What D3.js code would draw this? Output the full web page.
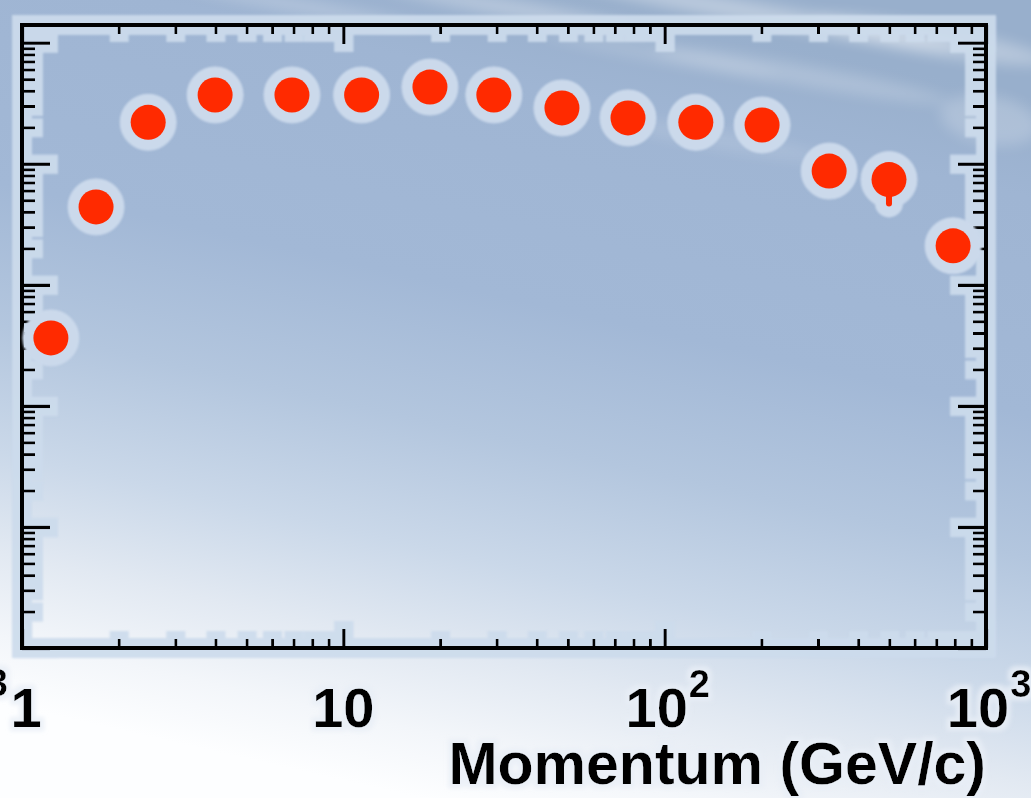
<!DOCTYPE html>
<html>
<head>
<meta charset="utf-8">
<script src="https://cdn.jsdelivr.net/npm/d3@7"></script>
<style>
  html, body { margin: 0; padding: 0; background: #fff; overflow: hidden; }
  svg { display: block; }
</style>
</head>
<body>
<svg id="chart" width="1031" height="798"></svg>
<script>
// Measured momentum bins (GeV/c) and the corresponding values (log scale)
const momentum = [1.23, 1.70, 2.47, 3.99, 6.92, 11.4, 18.6, 29.4, 47.9, 76.9, 125, 201, 325, 499, 790];
const values   = [364, 4400, 22000, 37000, 37000, 37000, 43000, 37000, 28900, 23900, 22000, 20900, 8700, 7400, 2100];
// Lower end of the error bar (only visible where it sticks out of the marker)
const errLow   = [null, null, null, null, null, null, null, null, null, null, null, null, null, 4700, null];

const xDomain = [1, 1000];
const yDomain = [1, 1.4e5];
const xTickLabels = [
  { v: 1,    base: "1",  sup: "" },
  { v: 10,   base: "10", sup: "" },
  { v: 100,  base: "10", sup: "2" },
  { v: 1000, base: "10", sup: "3" }
];
const xTitle = "Momentum (GeV/c)";

const W = 1031, H = 798;
const margin = { left: 22, right: 45, top: 25, bottom: 150 };
const x0 = margin.left, x1 = W - margin.right;
const y0 = H - margin.bottom, y1 = margin.top;

const svg = d3.select("#chart");
const defs = svg.append("defs");

// Sky-like background: blue at the top right fading to white at the bottom left
const bg = defs.append("linearGradient")
  .attr("id", "sky").attr("gradientUnits", "userSpaceOnUse")
  .attr("x1", 600).attr("y1", 0).attr("x2", 420).attr("y2", H);
[[0, "#98afcc"], [0.12, "#9fb5d3"], [0.38, "#a2b8d6"], [0.55, "#b3c6de"],
 [0.70, "#cad8e9"], [0.82, "#e2e9f2"], [0.92, "#f3f6fa"], [1, "#fdfeff"]]
  .forEach(([o, c]) => bg.append("stop").attr("offset", o).attr("stop-color", c));

const cloudBlur = defs.append("filter").attr("id", "cloud")
  .attr("x", "-50%").attr("y", "-50%").attr("width", "200%").attr("height", "200%");
cloudBlur.append("feGaussianBlur").attr("stdDeviation", 7);

const softBlur = defs.append("filter").attr("id", "soft")
  .attr("x", "-20%").attr("y", "-20%").attr("width", "140%").attr("height", "140%");
softBlur.append("feGaussianBlur").attr("stdDeviation", 1.2);

// Pale glow drawn around dark axis lines and text
function makeHalo(id, radius, blur, color, opacity) {
  const f = defs.append("filter").attr("id", id)
    .attr("filterUnits", "userSpaceOnUse")
    .attr("x", -20).attr("y", -20).attr("width", W + 40).attr("height", H + 40);
  f.append("feMorphology").attr("in", "SourceAlpha").attr("operator", "dilate")
    .attr("radius", radius).attr("result", "d");
  f.append("feGaussianBlur").attr("in", "d").attr("stdDeviation", blur).attr("result", "b");
  f.append("feFlood").attr("flood-color", color).attr("flood-opacity", opacity);
  f.append("feComposite").attr("in2", "b").attr("operator", "in").attr("result", "h");
  const m = f.append("feMerge");
  m.append("feMergeNode").attr("in", "h");
  m.append("feMergeNode").attr("in", "SourceGraphic");
}
makeHalo("axisHalo", 8, 1.2, "#ccdbec", 0.92);
makeHalo("textHalo", 4, 2, "#e8eef6", 0.8);

svg.append("rect").attr("width", W).attr("height", H).attr("fill", "url(#sky)");

// Faint cloud streaks across the top
const clouds = svg.append("g").attr("filter", "url(#cloud)").attr("fill", "#ffffff");
[[520, 10, 140, 8, 0.3], [760, 14, 200, 10, 0.35], [930, 40, 120, 14, 0.3],
 [800, 75, 150, 10, 0.2], [660, 55, 120, 7, 0.15], [990, 120, 50, 24, 0.2],
 [300, 6, 120, 6, 0.25], [720, 140, 110, 9, 0.12]]
  .forEach(([cx, cy, rx, ry, o]) =>
    clouds.append("ellipse").attr("cx", cx).attr("cy", cy).attr("rx", rx).attr("ry", ry)
      .attr("opacity", o).attr("transform", `rotate(10 ${cx} ${cy})`));

const x = d3.scaleLog().domain(xDomain).range([x0, x1]);
const y = d3.scaleLog().domain(yDomain).range([y0, y1]);

const isDecade = v => Math.abs(Math.log10(v) - Math.round(Math.log10(v))) < 1e-9;
const xTicks = x.ticks();
const yTicks = y.ticks().filter(v => v >= yDomain[0] && v <= yDomain[1]);
const xMajor = xTicks.filter(isDecade), xMinor = xTicks.filter(v => !isDecade(v));
const yMajor = yTicks.filter(isDecade), yMinor = yTicks.filter(v => !isDecade(v));

// Frame with inward-pointing ticks on all four sides
const frame = svg.append("g").attr("filter", "url(#axisHalo)");

function styleAxis(g, width) {
  g.select(".domain").remove();
  g.selectAll(".tick line").attr("stroke", "#000").attr("stroke-width", width);
  g.selectAll(".tick text").remove();
}
const axes = [
  [d3.axisBottom, `translate(0,${y0})`, x, xMinor, -9, xMajor, -19],
  [d3.axisTop,    `translate(0,${y1})`, x, xMinor, -9, xMajor, -19],
  [d3.axisLeft,   `translate(${x0},0)`, y, yMinor, -13, yMajor, -28],
  [d3.axisRight,  `translate(${x1},0)`, y, yMinor, -13, yMajor, -28]
];
axes.forEach(([fn, tr, sc, minor, minLen, major, majLen]) => {
  frame.append("g").attr("transform", tr)
    .call(fn(sc).tickValues(minor).tickSize(minLen).tickFormat(""))
    .call(g => styleAxis(g, 3));
  frame.append("g").attr("transform", tr)
    .call(fn(sc).tickValues(major).tickSize(majLen).tickFormat(""))
    .call(g => styleAxis(g, 3.4));
});
frame.append("rect")
  .attr("x", x0).attr("y", y1).attr("width", x1 - x0).attr("height", y0 - y1)
  .attr("fill", "none").attr("stroke", "#000").attr("stroke-width", 4);

// Data markers: pale round glow underneath, then the red points
const pts = momentum.map((m, i) => ({ m, v: values[i], lo: errLow[i] }));
const glow = svg.append("g").attr("filter", "url(#soft)").attr("fill", "#cbd9eb")
  .attr("stroke", "#cbd9eb");
glow.selectAll("circle").data(pts).join("circle")
  .attr("cx", d => x(d.m)).attr("cy", d => y(d.v)).attr("r", 28);
glow.selectAll("line").data(pts.filter(d => d.lo != null)).join("line")
  .attr("x1", d => x(d.m)).attr("x2", d => x(d.m))
  .attr("y1", d => y(d.v)).attr("y2", d => y(d.lo))
  .attr("stroke-width", 28).attr("stroke-linecap", "round");

const dots = svg.append("g").attr("fill", "#ff2a00");
dots.selectAll("line").data(pts.filter(d => d.lo != null)).join("line")
  .attr("x1", d => x(d.m)).attr("x2", d => x(d.m))
  .attr("y1", d => y(d.v)).attr("y2", d => y(d.lo))
  .attr("stroke", "#ff2a00").attr("stroke-width", 6).attr("stroke-linecap", "round");
dots.selectAll("circle").data(pts).join("circle")
  .attr("cx", d => x(d.m)).attr("cy", d => y(d.v)).attr("r", 17.5);

// Tick labels below the frame
const labels = svg.append("g").attr("filter", "url(#textHalo)")
  .attr("font-family", "'Liberation Sans', Arial, Helvetica, sans-serif")
  .attr("font-weight", "bold").attr("fill", "#000");
const labelY = 727;
xTickLabels.forEach(t => {
  const shift = t.sup ? -8 : (t.v === 1 ? 4 : 0);
  labels.append("text").attr("x", x(t.v) + shift).attr("y", labelY)
    .attr("text-anchor", "middle").attr("font-size", 56).text(t.base);
  if (t.sup) {
    const half = t.base.length * 0.556 * 56 / 2;
    labels.append("text").attr("x", x(t.v) + shift + half + 1).attr("y", labelY - 30)
      .attr("font-size", 38).text(t.sup);
  }
});
// Superscript of the neighbouring label that falls just off the left edge
labels.append("text").attr("x", 8).attr("y", labelY - 31)
  .attr("text-anchor", "end").attr("font-size", 38).text("3");

labels.append("text").attr("x", x1).attr("y", 784)
  .attr("text-anchor", "end").attr("font-size", 59).text(xTitle);
</script>
</body>
</html>
